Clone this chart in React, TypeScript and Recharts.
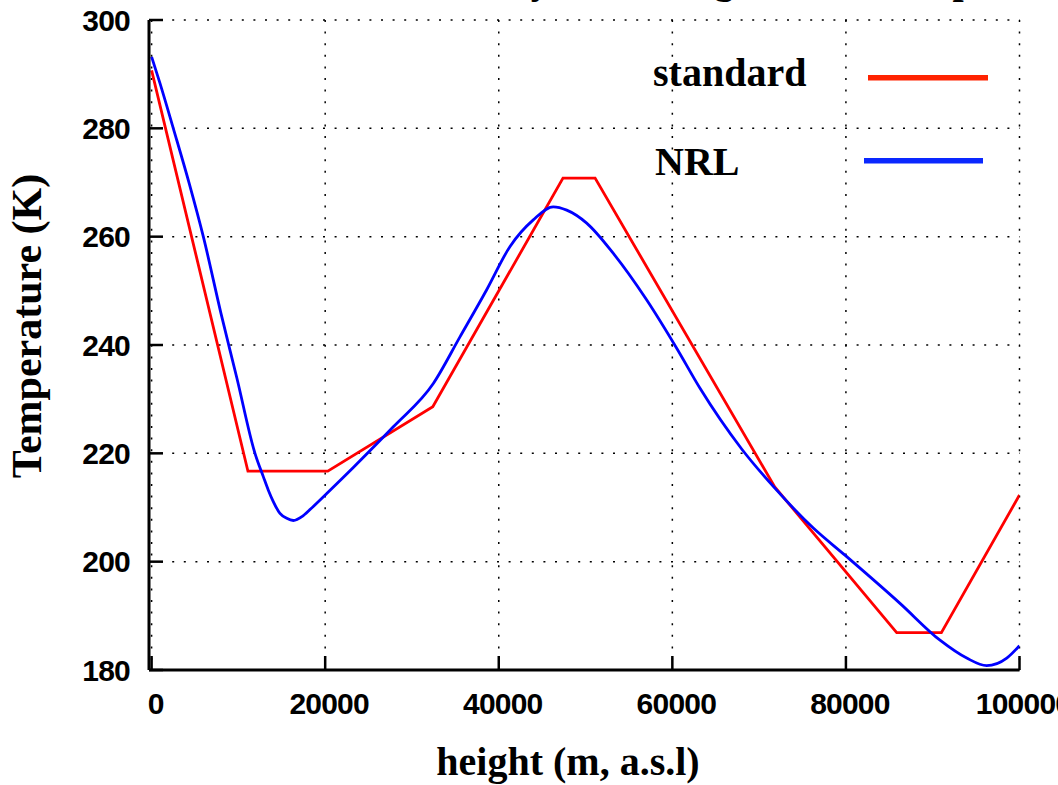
import React from "react";
import { LineChart, Line, XAxis, YAxis, CartesianGrid, Legend } from "recharts";

// standard atmosphere (red)
const STD_H = [0, 11100, 20300, 32400, 47400, 51100, 71800, 85850, 91000, 100000];
const STD_T = [290.7, 216.7, 216.7, 228.6, 270.8, 270.8, 213.8, 186.9, 186.9, 212.3];

// NRL model (blue)
const NRL_H = [
  0, 970, 2500, 4340, 5960, 8000, 9810, 11910, 12870, 13450, 14020, 14790, 15570,
  16330, 17480, 18630, 20180, 23240, 27850, 32460, 35530, 38610, 41300, 43980,
  46280, 47830, 50130, 53200, 57050, 60500, 63190, 67990, 72020, 76240, 79890,
  86230, 90840, 93920, 96220, 98530, 100000,
];
const NRL_T = [
  293.2, 288.3, 280, 269.8, 260, 245.8, 234.0, 220, 215.7, 213.2, 211.1, 208.9, 208.0,
  207.6, 208.5, 210.2, 212.6, 217.4, 224.9, 232.9, 241.5, 250.2, 258.2, 263.1,
  265.5, 264.9, 262.5, 256.9, 248.3, 239.4, 232.0, 220.8, 213.2, 206.2, 201.2,
  192.3, 185.5, 182.2, 180.8, 182.2, 184.5,
];

const X_TICKS = [0, 20000, 40000, 60000, 80000, 100000];
const Y_TICKS = [180, 200, 220, 240, 260, 280, 300];

const SERIES = ["standard", "NRL"];

const stdData = STD_H.map((h, i) => ({ h, t: STD_T[i] }));
const nrlData = NRL_H.map((h, i) => ({ h, t: NRL_T[i] }));

const SERIF = "'Liberation Serif', 'Times New Roman', serif";
const SANS = "'Liberation Sans', Arial, sans-serif";

const tickStyle = {
  fill: "#000",
  fontSize: 30,
  fontWeight: 700,
  fontFamily: SANS,
  letterSpacing: -0.8,
};
const tickLine = { stroke: "#000", strokeWidth: 2.5 };
const axisLine = { stroke: "#000", strokeWidth: 3 };

const XLabel = () => (
  <text x={568} y={775} textAnchor="middle" fontFamily={SERIF} fontWeight={700} fontSize={40} fill="#000">
    height (m, a.s.l)
  </text>
);

const YLabel = () => (
  <text
    transform="translate(41, 326) rotate(-90)"
    textAnchor="middle"
    fontFamily={SERIF}
    fontWeight={700}
    fontSize={42}
    fill="#000"
  >
    Temperature (K)
  </text>
);

const KeyBox = () => (
  <svg width={380} height={150} style={{ display: "block" }}>
    <text x={13} y={46} fontFamily={SERIF} fontWeight={700} fontSize={40} fill="#000">
      {SERIES[0]}
    </text>
    <line x1={228} x2={348} y1={37.7} y2={37.7} stroke="#ff2200" strokeWidth={5.5} />
    <text x={15} y={135} fontFamily={SERIF} fontWeight={700} fontSize={40} fill="#000">
      {SERIES[1]}
    </text>
    <line x1={224} x2={343} y1={120.7} y2={120.7} stroke="#0a28ff" strokeWidth={5.5} />
  </svg>
);

export default function App() {
  return (
    <div
      style={{
        position: "absolute",
        left: 0,
        top: 0,
        width: 1058,
        height: 785,
        overflow: "hidden",
        background: "#fff",
      }}
    >
      <LineChart width={1058} height={785} margin={{ top: 20, right: 38.5, left: 0, bottom: 0 }}>
        <CartesianGrid stroke="#000" strokeWidth={1.5} strokeDasharray="2 9.6" />
        <XAxis
          dataKey="h"
          type="number"
          domain={[-300, 100000]}
          ticks={X_TICKS}
          interval={0}
          allowDataOverflow
          height={115}
          tickSize={-14}
          tickMargin={37}
          tick={tickStyle}
          dx={4}
          tickLine={tickLine}
          axisLine={axisLine}
          label={{ content: XLabel }}
        />
        <XAxis
          xAxisId="top"
          orientation="top"
          dataKey="h"
          type="number"
          domain={[-300, 100000]}
          ticks={X_TICKS}
          interval={0}
          allowDataOverflow
          height={0}
          tickSize={-14}
          tickFormatter={() => ""}
          tickLine={tickLine}
          axisLine={axisLine}
        />
        <YAxis
          type="number"
          domain={[180, 300]}
          ticks={Y_TICKS}
          interval={0}
          allowDataOverflow
          width={149}
          tickSize={-14}
          tickMargin={33}
          tick={tickStyle}
          tickLine={tickLine}
          axisLine={axisLine}
          label={{ content: YLabel }}
        />
        <YAxis
          yAxisId="right"
          orientation="right"
          type="number"
          domain={[180, 300]}
          ticks={Y_TICKS}
          interval={0}
          allowDataOverflow
          width={0}
          tickSize={-14}
          tickFormatter={() => ""}
          tickLine={tickLine}
          axisLine={axisLine}
        />
        <Legend
          layout="vertical"
          align="center"
          verticalAlign="middle"
          wrapperStyle={{ left: 640, top: 40, width: 380, height: 150 }}
          content={KeyBox}
        />
        <Line
          data={stdData}
          dataKey="t"
          name={SERIES[0]}
          type="linear"
          stroke="#ff0000"
          strokeWidth={2.8}
          dot={false}
          activeDot={false}
          isAnimationActive={false}
        />
        <Line
          data={nrlData}
          dataKey="t"
          name={SERIES[1]}
          type="monotoneX"
          stroke="#0000ff"
          strokeWidth={2.8}
          dot={false}
          activeDot={false}
          isAnimationActive={false}
        />
      </LineChart>
      {/* title sits mostly above the frame; only its descenders show */}
      <svg
        width={1058}
        height={20}
        style={{ position: "absolute", left: 0, top: 0, pointerEvents: "none" }}
      >
        <text x={69} y={-7} fontFamily={SERIF} fontWeight={700} fontSize={40} fill="#000">
          Mean Thermal Structure by Modelling @ 45N Comparison
        </text>
      </svg>
    </div>
  );
}
